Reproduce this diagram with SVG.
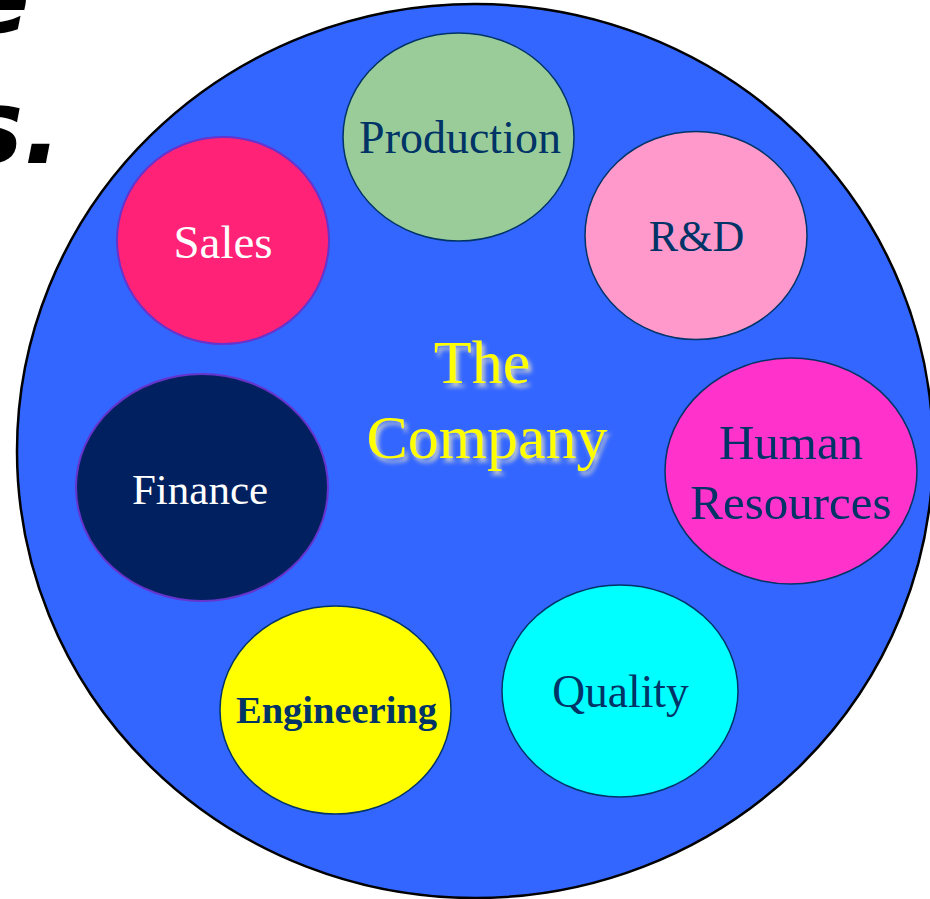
<svg xmlns="http://www.w3.org/2000/svg" width="930" height="899" viewBox="0 0 930 899">
<defs>
<style>
.serif{font-family:"Liberation Serif","Times New Roman",serif;text-anchor:middle}
.navy{fill:#003366}
.white{fill:#FFFFFF}
.node{stroke:#003366;stroke-width:1.5}
.pnode{stroke:#6633CC;stroke-width:2}
.head{font-family:"DejaVu Sans",Verdana,sans-serif;font-weight:bold;font-style:italic;fill:#000;text-anchor:end}
</style>
<filter id="shadow" x="-10%" y="-10%" width="130%" height="140%">
<feDropShadow dx="3" dy="4" stdDeviation="2" flood-color="#D8D8C8" flood-opacity="0.9"/>
</filter>
</defs>
<rect width="930" height="899" fill="#FFFFFF"/>
<g id="heading">
<text class="head" x="30" y="33" font-size="102">e</text>
<text class="head" x="62" y="163" font-size="102">s.</text>
</g>
<g id="company">
<ellipse cx="475" cy="451" rx="458" ry="447" fill="#3366FF" stroke="#000000" stroke-width="2.5"/>
<text class="serif" font-size="62" fill="#FFFF00" filter="url(#shadow)"><tspan x="482" y="383">The</tspan><tspan x="487" y="458">Company</tspan></text>
</g>
<g id="connectors"></g>
<g id="production">
<ellipse class="node" cx="458.5" cy="137" rx="115.5" ry="104" fill="#99CC99"/>
<text class="serif navy" x="460" y="153" font-size="46">Production</text>
</g>
<g id="rd">
<ellipse class="node" cx="696" cy="235.5" rx="111" ry="104" fill="#FF99CC"/>
<text class="serif navy" x="696.5" y="251" font-size="44">R&amp;D</text>
</g>
<g id="sales">
<ellipse class="pnode" cx="223" cy="240.5" rx="106" ry="103.5" fill="#FF2277"/>
<text class="serif white" x="223" y="258" font-size="47">Sales</text>
</g>
<g id="finance">
<ellipse class="pnode" cx="202" cy="487.5" rx="126" ry="113.5" fill="#002060"/>
<text class="serif white" x="200" y="504" font-size="43">Finance</text>
</g>
<g id="human-resources">
<ellipse class="node" cx="791" cy="471" rx="126" ry="113" fill="#FF33CC"/>
<text class="serif navy" font-size="49"><tspan x="791" y="459">Human</tspan><tspan x="791" y="519">Resources</tspan></text>
</g>
<g id="quality">
<ellipse class="node" cx="620" cy="691" rx="118" ry="106" fill="#00FFFF"/>
<text class="serif navy" x="620.5" y="707" font-size="45.5">Quality</text>
</g>
<g id="engineering">
<ellipse class="node" cx="335.5" cy="710" rx="115.5" ry="104" fill="#FFFF00"/>
<text class="serif navy" x="336.5" y="723" font-size="38.5" font-weight="bold">Engineering</text>
</g>
</svg>
